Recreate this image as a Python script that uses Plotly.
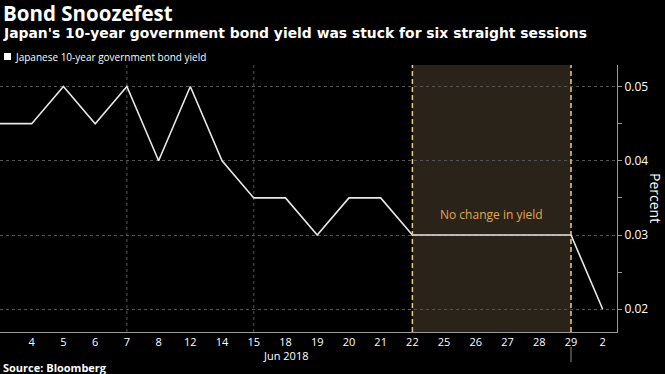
import plotly.graph_objects as go

# ---- data ----
days = ["1", "4", "5", "6", "7", "8", "12", "14", "15", "18", "19", "20", "21",
        "22", "25", "26", "27", "28", "29", "2"]
yields = [0.045, 0.045, 0.05, 0.045, 0.05, 0.04, 0.05, 0.04, 0.035, 0.035, 0.03,
          0.035, 0.035, 0.03, 0.03, 0.03, 0.03, 0.03, 0.03, 0.02]
series_name = "Japanese 10-year government bond yield"
flat_start, flat_end = "22", "29"
week_lines = ["7", "15"]
month_label = "Jun 2018"
month_label_at = "18"
month_break = "29"
y_ticks = [0.02, 0.03, 0.04, 0.05]

idx = list(range(len(days)))
pos = {d: i for i, d in enumerate(days)}

W, H = 665, 374
L, R, T, B = 0, 48, 65, 42
ph = H - T - B

def py(pix):
    # pixel y (from top) -> paper y
    return (H - B - pix) / ph

FONT = "Open Sans"
fig = go.Figure()

fig.add_trace(go.Scatter(
    x=idx, y=yields, mode="lines", name=series_name,
    line=dict(color="#e8e8e8", width=1.6), showlegend=False,
))

shapes = []
# shaded flat period
shapes.append(dict(type="rect", xref="x", yref="paper", x0=pos[flat_start], x1=pos[flat_end],
                   y0=0, y1=1, fillcolor="#2a2319", line=dict(width=0), layer="below"))
# weekly vertical grid lines
for d in week_lines:
    shapes.append(dict(type="line", xref="x", yref="paper", x0=pos[d], x1=pos[d], y0=0, y1=1,
                       line=dict(color="#555555", width=1, dash="dot"), layer="below"))
# dashed boundaries
for d in (flat_start, flat_end):
    shapes.append(dict(type="line", xref="x", yref="paper", x0=pos[d], x1=pos[d], y0=0, y1=1,
                       line=dict(color="#f3c98c", width=1.5, dash="5px,3px")))
# month separator tick
shapes.append(dict(type="line", xref="x", yref="paper", x0=pos[month_break], x1=pos[month_break],
                   y0=py(347), y1=py(362), line=dict(color="#8a8a8a", width=1)))
# legend square
shapes.append(dict(type="rect", xref="paper", yref="paper", x0=4 / 617, x1=11 / 617,
                   y0=py(60), y1=py(53), fillcolor="#ffffff", line=dict(width=0)))
fig.update_layout(shapes=shapes)

ann = []
ann.append(dict(text="<b>Bond Snoozefest</b>", x=0, y=py(13), xref="paper", yref="paper",
                xanchor="left", yanchor="middle", xshift=1, showarrow=False,
                font=dict(family=FONT, size=20.5, color="#ffffff")))
ann.append(dict(text="<b>Japan's 10-year government bond yield was stuck for six straight sessions</b>",
                x=0, y=py(33), xref="paper", yref="paper", xanchor="left", yanchor="middle",
                xshift=1, showarrow=False, font=dict(family="DejaVu Sans", size=13.9, color="#ffffff")))
ann.append(dict(text=series_name, x=0, y=py(56.5), xref="paper", yref="paper", xanchor="left",
                yanchor="middle", xshift=13, showarrow=False,
                font=dict(family=FONT, size=10, color="#ffffff")))
ann.append(dict(text="No change in yield", x=(pos[flat_start] + pos[flat_end]) / 2, y=0.0327,
                xref="x", yref="y", xanchor="center", yanchor="middle", showarrow=False,
                font=dict(family=FONT, size=12, color="#e0a852")))
ann.append(dict(text="Percent", x=1, y=py(198), xref="paper", yref="paper", xanchor="center",
                yanchor="middle", xshift=39, textangle=90, showarrow=False,
                font=dict(family=FONT, size=14, color="#ffffff")))
ann.append(dict(text=month_label, x=pos[month_label_at], y=py(355), xref="x", yref="paper",
                xanchor="center", yanchor="middle", showarrow=False,
                font=dict(family=FONT, size=11, color="#ffffff")))
ann.append(dict(text="<b>Source: Bloomberg</b>", x=0, y=py(367.5), xref="paper", yref="paper",
                xanchor="left", yanchor="middle", xshift=1, showarrow=False,
                font=dict(family=FONT, size=11, color="#ffffff")))
fig.update_layout(annotations=ann)

fig.update_layout(
    width=W, height=H, margin=dict(l=L, r=R, t=T, b=B),
    paper_bgcolor="#000000", plot_bgcolor="#000000",
    showlegend=False,
    xaxis=dict(range=[0, 19.45], tickvals=idx[1:], ticktext=days[1:], showgrid=False,
               zeroline=False, showline=True, linecolor="#9a9a9a", linewidth=1,
               ticks="", tickfont=dict(family=FONT, size=11, color="#ffffff")),
    yaxis=dict(side="right", range=[0.01694, 0.0529], tickvals=y_ticks,
               ticktext=[f"{v:.2f}" for v in y_ticks], showgrid=True, gridcolor="#555555",
               griddash="dot", gridwidth=1, zeroline=False, showline=True, linecolor="#9a9a9a",
               linewidth=1, ticks="outside", ticklen=4, tickcolor="#9a9a9a",
               minor=dict(tickvals=[0.025, 0.035, 0.045], ticks="outside", ticklen=4,
                          tickcolor="#9a9a9a", showgrid=False),
               tickfont=dict(family=FONT, size=12, color="#ffffff")),
)

fig.write_html("out.html", config={"displayModeBar": False},
               post_script="document.body.style.margin='0px';document.body.style.background='#000';")
